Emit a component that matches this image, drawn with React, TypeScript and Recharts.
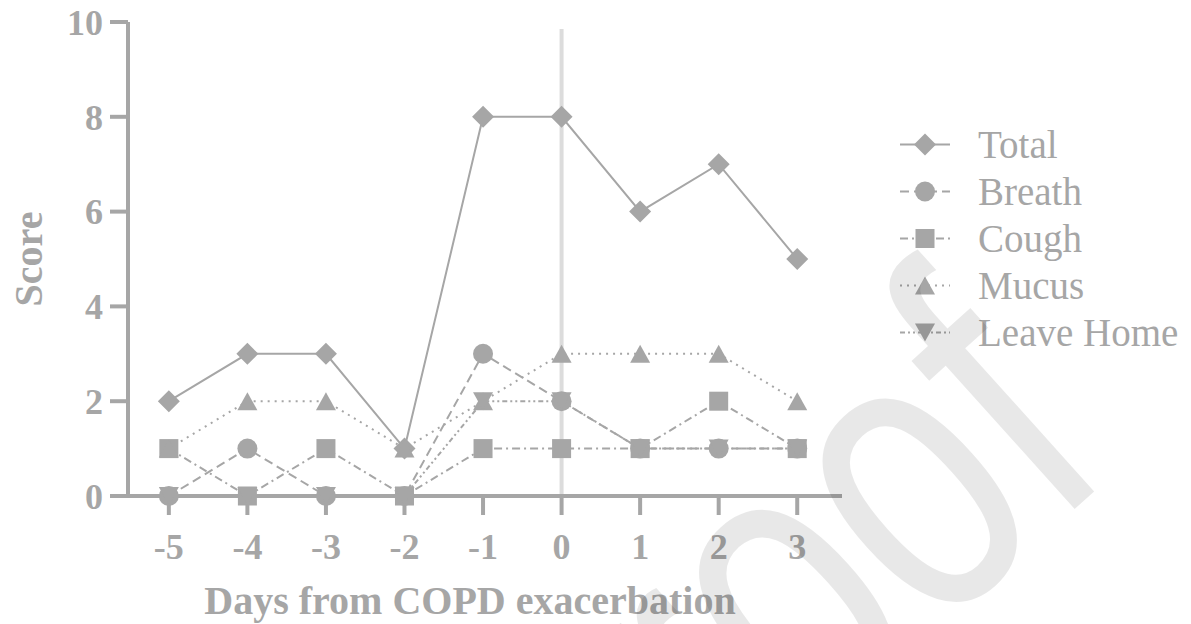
import { LineChart, Line, XAxis, YAxis, ReferenceLine, Legend } from "recharts";

const days = [-5, -4, -3, -2, -1, 0, 1, 2, 3];
const total = [2, 3, 3, 1, 8, 8, 6, 7, 5];
const breath = [0, 1, 0, 0, 3, 2, 1, 1, 1];
const cough = [1, 0, 1, 0, 1, 1, 1, 2, 1];
const mucus = [1, 2, 2, 1, 2, 3, 3, 3, 2];
const leaveHome = [0, 0, 0, 0, 2, 2, 1, 1, 1];
const yTicks = [0, 2, 4, 6, 8, 10];

const GREY = "#a6a6a6";
const FONT = '"Liberation Serif", "Times New Roman", serif';

const series = [
  { key: "total", name: "Total", shape: "diamond", dash: undefined as string | undefined },
  { key: "breath", name: "Breath", shape: "circle", dash: "9 5" },
  { key: "cough", name: "Cough", shape: "square", dash: "8 4 2 4" },
  { key: "mucus", name: "Mucus", shape: "triangle", dash: "2 5" },
  { key: "leave", name: "Leave Home", shape: "triangleDown", dash: "5 3 2 3 2 3" },
];

const data = days.map((d, i) => ({
  day: d,
  total: total[i],
  breath: breath[i],
  cough: cough[i],
  mucus: mucus[i],
  leave: leaveHome[i],
}));

function Marker({ shape, cx, cy }: { shape: string; cx: number; cy: number }) {
  if (shape === "diamond") {
    return <polygon points={`${cx},${cy - 11} ${cx + 11},${cy} ${cx},${cy + 11} ${cx - 11},${cy}`} fill={GREY} />;
  }
  if (shape === "circle") return <circle cx={cx} cy={cy} r={10} fill={GREY} />;
  if (shape === "square") return <rect x={cx - 9.5} y={cy - 9.5} width={19} height={19} fill={GREY} />;
  if (shape === "triangle") {
    return <polygon points={`${cx},${cy - 9} ${cx + 10},${cy + 9} ${cx - 10},${cy + 9}`} fill={GREY} />;
  }
  return <polygon points={`${cx - 10},${cy - 9} ${cx + 10},${cy - 9} ${cx},${cy + 9}`} fill={GREY} />;
}

function renderLegend() {
  return (
    <div>
      {series.map((s) => (
        <div key={s.key} style={{ display: "flex", alignItems: "center", height: 47 }}>
          <svg width={54} height={47}>
            <line x1={2} y1={23.5} x2={52} y2={23.5} stroke={GREY} strokeWidth={2} strokeDasharray={s.dash} />
            <Marker shape={s.shape} cx={27} cy={23.5} />
          </svg>
          <span style={{ marginLeft: 26, fontFamily: FONT, fontSize: 39, color: GREY, lineHeight: "47px" }}>{s.name}</span>
        </div>
      ))}
    </div>
  );
}

export default function App() {
  return (
    <div style={{ position: "absolute", left: 0, top: 0, width: 1191, height: 624, background: "#fff" }}>
      <LineChart width={1191} height={624} data={data} margin={{ top: 22, right: 349, bottom: 0, left: 0 }}>
        <XAxis
          dataKey="day"
          type="number"
          domain={[-5.52, 3.57]}
          ticks={days}
          height={128}
          axisLine={{ stroke: GREY, strokeWidth: 4 }}
          tickLine={{ stroke: GREY, strokeWidth: 4 }}
          tickSize={19}
          tickMargin={18}
          tick={{ fill: GREY, fontFamily: FONT, fontWeight: "bold", fontSize: 36 }}
          label={{
            content: ({ viewBox }: any) => (
              <text
                x={viewBox.x + viewBox.width / 2 - 15}
                y={viewBox.y + viewBox.height - 10}
                textAnchor="middle"
                fill={GREY}
                fontFamily={FONT}
                fontWeight="bold"
                fontSize={40}
              >
                Days from COPD exacerbation
              </text>
            ),
          }}
        />
        <YAxis
          type="number"
          domain={[0, 10]}
          ticks={yTicks}
          width={128}
          axisLine={{ stroke: GREY, strokeWidth: 4 }}
          tickLine={{ stroke: GREY, strokeWidth: 4 }}
          tickSize={18}
          tickMargin={7}
          tick={{ fill: GREY, fontFamily: FONT, fontWeight: "bold", fontSize: 36 }}
          label={{
            content: ({ viewBox }: any) => {
              const cy = viewBox.y + viewBox.height / 2;
              return (
                <text
                  x={42}
                  y={cy}
                  transform={`rotate(-90, 42, ${cy})`}
                  textAnchor="middle"
                  fill={GREY}
                  fontFamily={FONT}
                  fontWeight="bold"
                  fontSize={40}
                >
                  Score
                </text>
              );
            },
          }}
        />
        {series.map((s) => (
          <Line
            key={s.key}
            dataKey={s.key}
            name={s.name}
            type="linear"
            stroke={GREY}
            strokeWidth={2}
            strokeDasharray={s.dash}
            isAnimationActive={false}
            activeDot={false}
            dot={(p: any) => <Marker key={`${s.key}-${p.index}`} shape={s.shape} cx={p.cx} cy={p.cy} />}
          />
        ))}
        <ReferenceLine
          segment={[
            { x: 0, y: 9.85 },
            { x: 0, y: 0 },
          ]}
          stroke="#dcdcdc"
          strokeWidth={4}
        />
        <Legend
          content={renderLegend}
          layout="horizontal"
          verticalAlign="middle"
          align="center"
          wrapperStyle={{ left: 898, top: 121, width: 293 }}
        />
      </LineChart>
      <svg width={1191} height={624} style={{ position: "absolute", left: 0, top: 0, pointerEvents: "none" }}>
        <text
          transform="translate(586,949) rotate(-42) scale(0.72,1)"
          fontSize={415}
          fontFamily='"Liberation Sans", Arial, sans-serif'
          fill="#000"
          fillOpacity={0.09}
        >
          Proof
        </text>
      </svg>
    </div>
  );
}
